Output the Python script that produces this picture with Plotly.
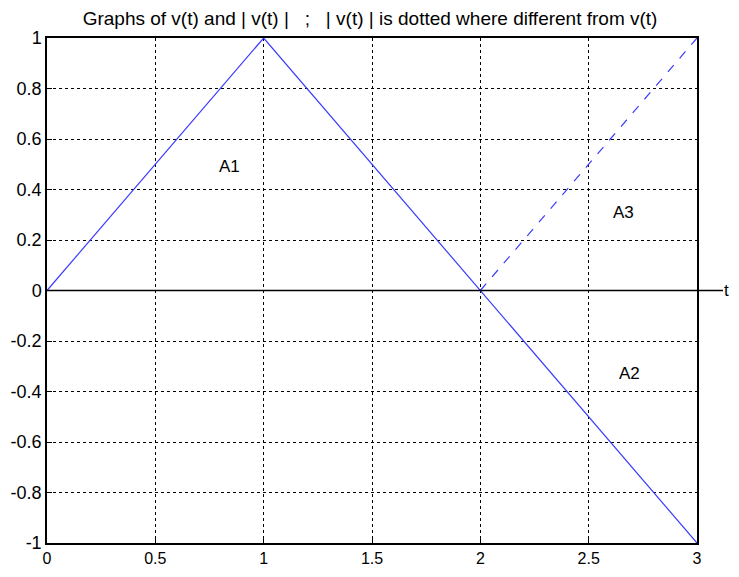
import plotly.graph_objects as go

t_v = [0, 1, 3]
v_vals = [0, 1, -1]
t_abs = [2, 3]
abs_vals = [0, 1]
x_ticks = [0, 0.5, 1, 1.5, 2, 2.5, 3]
x_labels = ["0", "0.5", "1", "1.5", "2", "2.5", "3"]
y_ticks = [-1, -0.8, -0.6, -0.4, -0.2, 0, 0.2, 0.4, 0.6, 0.8, 1]
y_labels = ["-1", "-0.8", "-0.6", "-0.4", "-0.2", "0", "0.2", "0.4", "0.6", "0.8", "1"]
area_labels = ["A1", "A2", "A3"]
area_x = [0.84, 2.69, 2.66]
area_y = [0.49, -0.33, 0.31]

fig = go.Figure()
fig.add_trace(go.Scatter(x=t_v, y=v_vals, mode="lines",
                         line=dict(color="#3b3bff", width=1.2), showlegend=False))
fig.add_trace(go.Scatter(x=t_abs, y=abs_vals, mode="lines",
                         line=dict(color="#3b3bff", width=1.2, dash="dash"), showlegend=False))

for lab, ax_, ay_ in zip(area_labels, area_x, area_y):
    fig.add_annotation(x=ax_, y=ay_, text=lab, showarrow=False,
                       font=dict(size=17, color="black"))

fig.add_shape(type="line", xref="paper", yref="y", x0=0, x1=1.04, y0=0, y1=0,
              line=dict(color="black", width=1.5))
fig.add_annotation(xref="paper", yref="paper", x=1.052, y=0.5, text="t", showarrow=False,
                   font=dict(size=17, color="black"), xanchor="right", yanchor="middle")

fig.update_layout(
    width=723, height=561,
    margin=dict(l=39, r=34, t=30, b=26, autoexpand=False),
    paper_bgcolor="white", plot_bgcolor="white",
    font=dict(family="Liberation Sans, Arial", size=18, color="black"),
    title=dict(text="Graphs of v(t) and | v(t) |   ;   | v(t) | is dotted where different from v(t)",
               xref="paper", x=0.497, xanchor="center", yref="container", y=0.982, yanchor="middle",
               font=dict(size=19, color="black")),
    xaxis=dict(range=[0, 3], tickvals=x_ticks, ticktext=x_labels, tickfont=dict(size=16),
               showgrid=True, gridcolor="black", griddash="dot", gridwidth=1,
               showline=True, linecolor="black", linewidth=1.5, mirror=True,
               ticks="inside", ticklen=5, tickcolor="black", zeroline=False,
               automargin=False),
    yaxis=dict(range=[-1, 1], tickvals=y_ticks, ticktext=y_labels, tickfont=dict(size=18),
               showgrid=True, gridcolor="black", griddash="dot", gridwidth=1,
               showline=True, linecolor="black", linewidth=1.5, mirror=True,
               ticks="inside", ticklen=5, tickcolor="black", zeroline=False,
               automargin=False),
)

fig.write_html("out.html")
